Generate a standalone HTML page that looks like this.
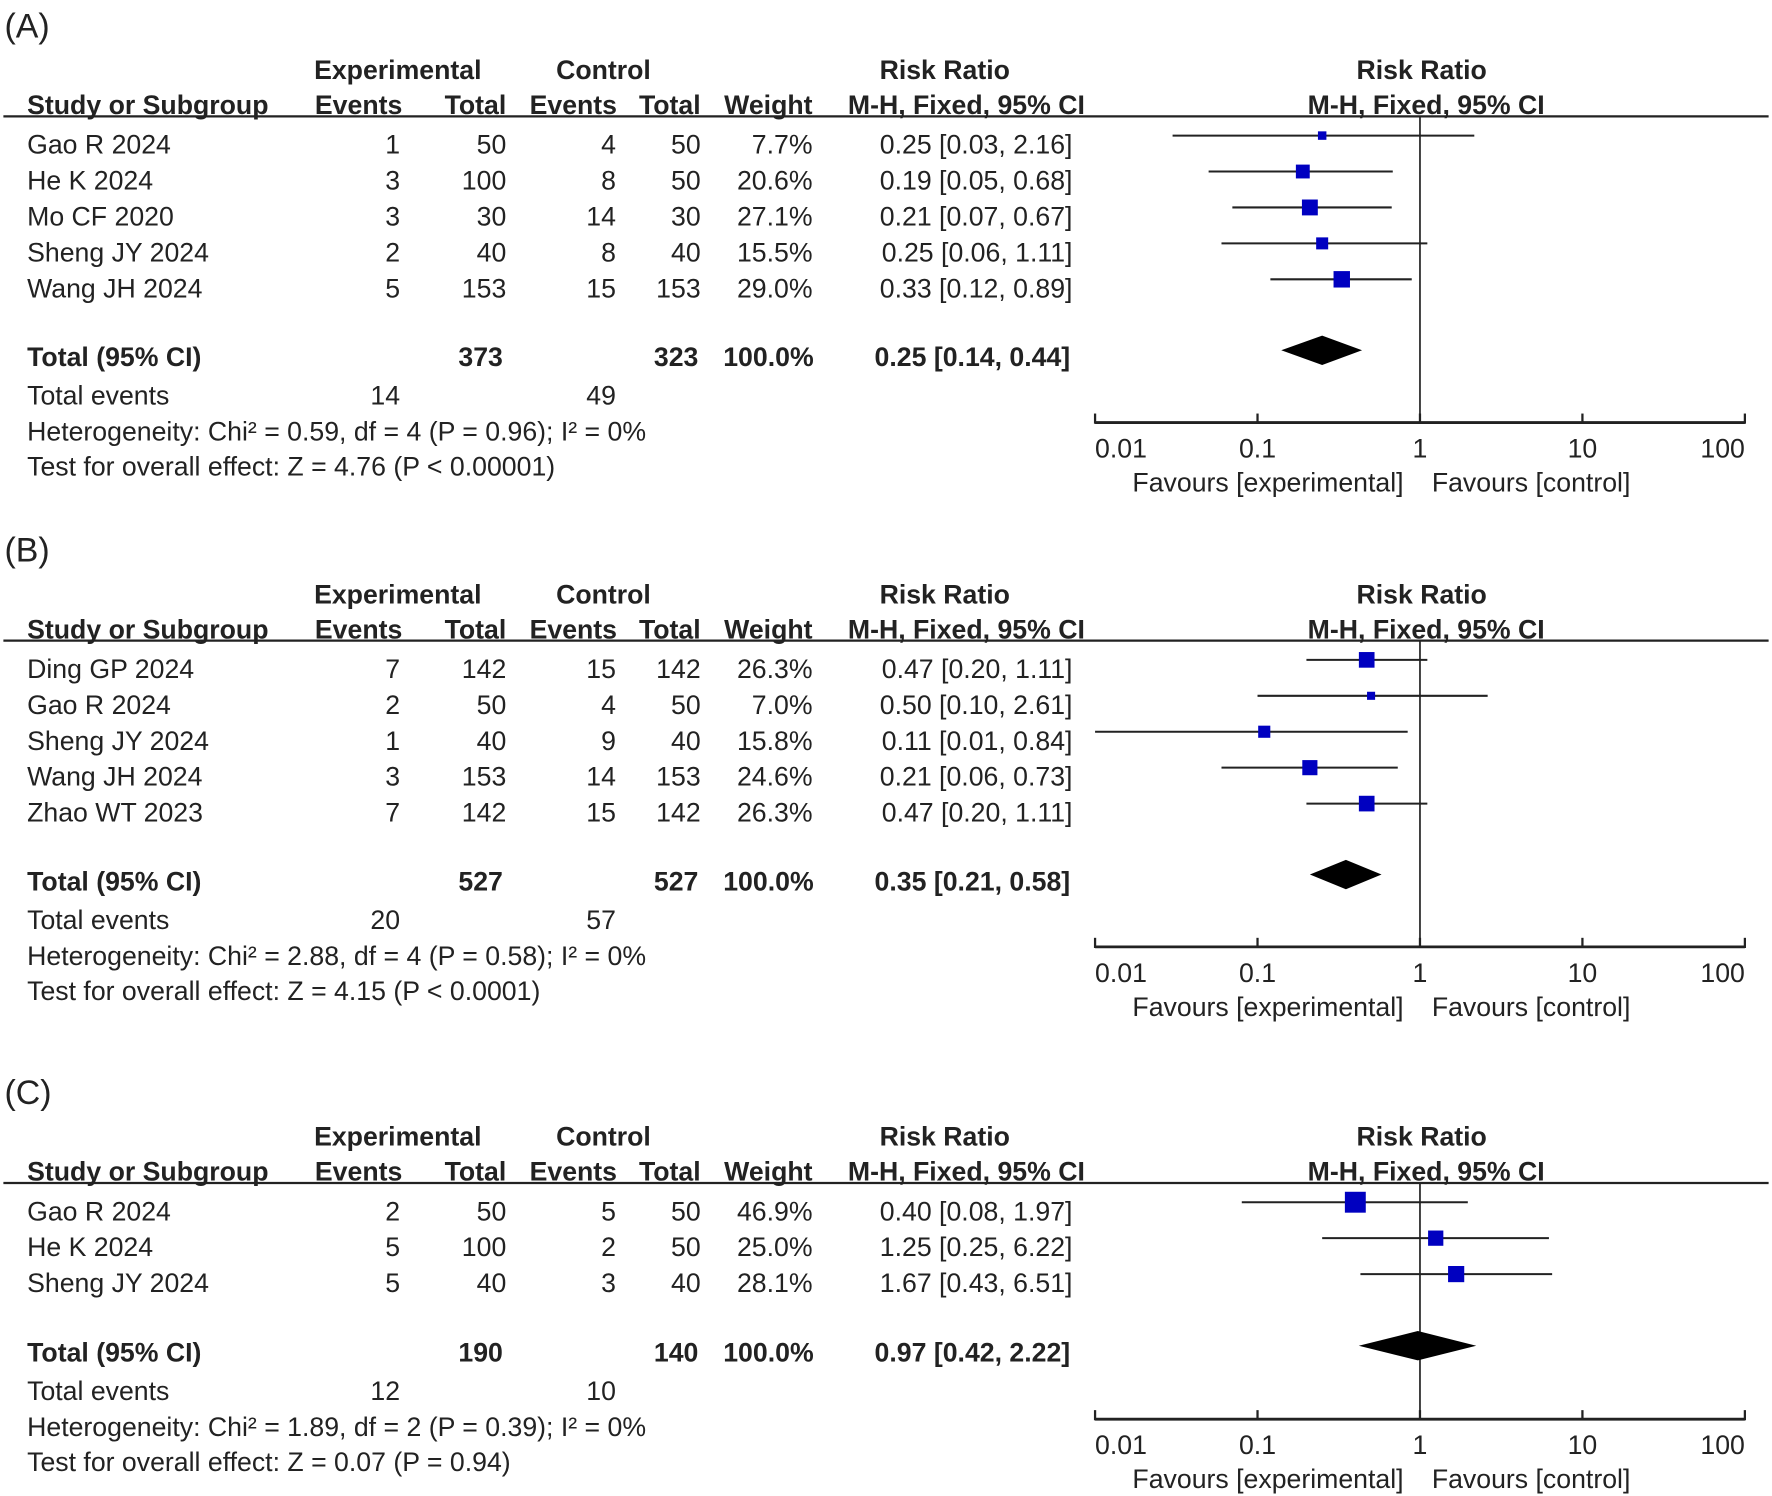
<!DOCTYPE html>
<html><head><meta charset="utf-8"><style>
html,body{margin:0;padding:0;background:#fff;}
svg{display:block;}
text{font-family:"Liberation Sans",Arial,sans-serif;fill:#222;}
</style></head><body>
<svg id="fig" xmlns="http://www.w3.org/2000/svg" width="1772" height="1496" viewBox="0 0 1568 1324" preserveAspectRatio="none"></svg>
<script>
// Panel A data
const studiesA = ["Gao R 2024","He K 2024","Mo CF 2020","Sheng JY 2024","Wang JH 2024"];
const evEA = [1,3,3,2,5]; const totEA = [50,100,30,40,153];
const evCA = [4,8,14,8,15]; const totCA = [50,50,30,40,153];
const weightA = [7.7,20.6,27.1,15.5,29.0];
const rrA = [0.25,0.19,0.21,0.25,0.33];
const loA = [0.03,0.05,0.07,0.06,0.12];
const hiA = [2.16,0.68,0.67,1.11,0.89];
const totalA = {te:373, tc:323, rr:0.25, lo:0.14, hi:0.44, ee:14, ec:49,
  het:"Heterogeneity: Chi² = 0.59, df = 4 (P = 0.96); I² = 0%", z:"Test for overall effect: Z = 4.76 (P < 0.00001)"};
// Panel B data
const studiesB = ["Ding GP 2024","Gao R 2024","Sheng JY 2024","Wang JH 2024","Zhao WT 2023"];
const evEB = [7,2,1,3,7]; const totEB = [142,50,40,153,142];
const evCB = [15,4,9,14,15]; const totCB = [142,50,40,153,142];
const weightB = [26.3,7.0,15.8,24.6,26.3];
const rrB = [0.47,0.50,0.11,0.21,0.47];
const loB = [0.20,0.10,0.01,0.06,0.20];
const hiB = [1.11,2.61,0.84,0.73,1.11];
const totalB = {te:527, tc:527, rr:0.35, lo:0.21, hi:0.58, ee:20, ec:57,
  het:"Heterogeneity: Chi² = 2.88, df = 4 (P = 0.58); I² = 0%", z:"Test for overall effect: Z = 4.15 (P < 0.0001)"};
// Panel C data
const studiesC = ["Gao R 2024","He K 2024","Sheng JY 2024"];
const evEC = [2,5,5]; const totEC = [50,100,40];
const evCC = [5,2,3]; const totCC = [50,50,40];
const weightC = [46.9,25.0,28.1];
const rrC = [0.40,1.25,1.67];
const loC = [0.08,0.25,0.43];
const hiC = [1.97,6.22,6.51];
const totalC = {te:190, tc:140, rr:0.97, lo:0.42, hi:2.22, ee:12, ec:10,
  het:"Heterogeneity: Chi² = 1.89, df = 2 (P = 0.39); I² = 0%", z:"Test for overall effect: Z = 0.07 (P = 0.94)"};
const tickVals = [0.01,0.1,1,10,100];
const tickLabels = ["0.01","0.1","1","10","100"];

const svg = document.getElementById('fig');
const NS = "http://www.w3.org/2000/svg";
const FS = 23.6;
function xs(v){ return 969 + (Math.log10(v)+2)*143.75; }
function mk(tag, attrs, txt){
  const e = document.createElementNS(NS, tag);
  for (const k in attrs) e.setAttribute(k, attrs[k]);
  if (txt !== undefined) e.textContent = txt;
  svg.appendChild(e);
  return e;
}
function T(x,y,s,anchor,bold,name,size){
  const e = mk('text',{x:x,y:y,'font-size':size||FS,'text-anchor':anchor||'start','font-weight':bold?'bold':'normal'}, s);
  
  
  return e;
}
function fmt(v){ return v.toFixed(2); }

function panel(label, oy, studies, evE, totE, evC, totC, w, rr, lo, hi, tot, totY, axisY){
  const p = label.toLowerCase();
  T(4, oy+33, "("+label+")", 'start', false, 'panel-label-'+p, 30);
  T(352, oy+70, "Experimental", 'middle', true, 'header-experimental');
  T(534, oy+70, "Control", 'middle', true, 'header-control');
  T(836, oy+70, "Risk Ratio", 'middle', true, 'header-risk-ratio');
  T(1258, oy+70, "Risk Ratio", 'middle', true, 'header-plot-risk-ratio');
  T(24, oy+101, "Study or Subgroup", 'start', true, 'header-study');
  T(356, oy+101, "Events", 'end', true, 'header-exp-events');
  T(448, oy+101, "Total", 'end', true, 'header-exp-total');
  T(546, oy+101, "Events", 'end', true, 'header-ctrl-events');
  T(620, oy+101, "Total", 'end', true, 'header-ctrl-total');
  T(719, oy+101, "Weight", 'end', true, 'header-weight');
  T(960, oy+101, "M-H, Fixed, 95% CI", 'end', true, 'header-ci');
  T(1262, oy+101, "M-H, Fixed, 95% CI", 'middle', true, 'header-plot-ci');
  let l = mk('line',{x1:3,y1:oy+103,x2:1565,y2:oy+103,stroke:'#222','stroke-width':2});
  
  
  l = mk('line',{x1:xs(1),y1:oy+103,x2:xs(1),y2:axisY,stroke:'#222','stroke-width':1.5});
  
  
  for (let i=0;i<studies.length;i++){
    const by = oy+136+i*31.8;
    T(24, by, studies[i], 'start', false, 'study-name');
    T(354, by, String(evE[i]), 'end', false, 'exp-events');
    T(448, by, String(totE[i]), 'end', false, 'exp-total');
    T(545, by, String(evC[i]), 'end', false, 'ctrl-events');
    T(620, by, String(totC[i]), 'end', false, 'ctrl-total');
    T(719, by, w[i].toFixed(1)+"%", 'end', false, 'weight');
    T(949, by, fmt(rr[i])+" ["+fmt(lo[i])+", "+fmt(hi[i])+"]", 'end', false, 'risk-ratio-ci');
    const cy = by-16;
    const wl = mk('line',{x1:xs(lo[i]),y1:cy,x2:xs(hi[i]),y2:cy,stroke:'#222','stroke-width':1.8});
    
    
    const s = 2.7*Math.sqrt(w[i]);
    const r = mk('rect',{x:xs(rr[i])-s/2,y:cy-s/2,width:s,height:s,fill:'#0000c0'});
    
    
  }
  T(24, totY, "Total (95% CI)", 'start', true, 'total-label');
  T(445, totY, String(tot.te), 'end', true, 'total-exp');
  T(618, totY, String(tot.tc), 'end', true, 'total-ctrl');
  T(720, totY, "100.0%", 'end', true, 'total-weight');
  T(947, totY, fmt(tot.rr)+" ["+fmt(tot.lo)+", "+fmt(tot.hi)+"]", 'end', true, 'total-ci');
  const dy = totY-14;
  const d = mk('polygon',{points:[xs(tot.lo)+","+dy, xs(tot.rr)+","+(dy-13), xs(tot.hi)+","+dy, xs(tot.rr)+","+(dy+13)].join(' '),fill:'#000'});
  
  
  T(24, totY+34, "Total events", 'start', false, 'total-events-label');
  T(354, totY+34, String(tot.ee), 'end', false, 'total-events-exp');
  T(545, totY+34, String(tot.ec), 'end', false, 'total-events-ctrl');
  T(24, totY+66, tot.het, 'start', false, 'heterogeneity');
  T(24, totY+97, tot.z, 'start', false, 'overall-effect');
  const ax = mk('line',{x1:xs(0.01),y1:axisY,x2:xs(100),y2:axisY,stroke:'#222','stroke-width':2.5});
  
  
  for (let i=0;i<tickVals.length;i++){
    const tk = mk('line',{x1:xs(tickVals[i]),y1:axisY-8,x2:xs(tickVals[i]),y2:axisY+1,stroke:'#222','stroke-width':2});
    
    
    const anc = i===0?'start':(i===tickVals.length-1?'end':'middle');
    T(xs(tickVals[i]), axisY+31, tickLabels[i], anc, false, 'x-tick-label');
  }
  T(1242, axisY+61, "Favours [experimental]", 'end', false, 'favours-experimental');
  T(1267, axisY+61, "Favours [control]", 'start', false, 'favours-control');
}
panel('A', 0, studiesA, evEA, totEA, evCA, totCA, weightA, rrA, loA, hiA, totalA, 324, 374);
panel('B', 464, studiesB, evEB, totEB, evCB, totCB, weightB, rrB, loB, hiB, totalB, 788, 838);
panel('C', 944, studiesC, evEC, totEC, evCC, totCC, weightC, rrC, loC, hiC, totalC, 1205, 1256);
</script>
</body></html>
